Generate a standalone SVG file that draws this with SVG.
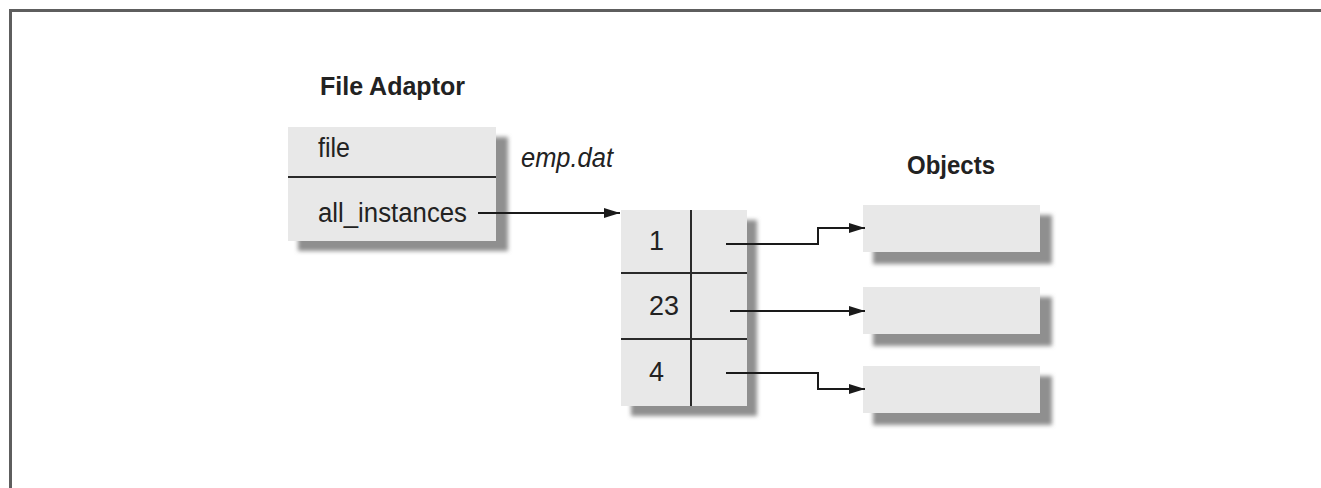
<svg xmlns="http://www.w3.org/2000/svg" width="1321" height="488" viewBox="0 0 1321 488">
  <defs>
    <filter id="soft" x="-10%" y="-20%" width="120%" height="140%">
      <feGaussianBlur stdDeviation="2"/>
    </filter>
    <marker id="arrow" viewBox="0 0 16 10" refX="16" refY="5" markerWidth="16" markerHeight="10" markerUnits="userSpaceOnUse" orient="auto">
      <path d="M0,0 L16,5 L0,10 Z" fill="#1a1a1a"/>
    </marker>
  </defs>
  <style>
    .frame { fill: none; stroke: #5e5e5e; stroke-width: 3; }
    .shadow { fill: #8f8f8f; filter: url(#soft); }
    .box { fill: #e8e8e8; }
    .rule { stroke: #2a2a2a; stroke-width: 2; fill: none; }
    .label { font-family: "Liberation Sans", Arial, sans-serif; font-size: 27px; fill: #222; }
    .title { font-family: "Liberation Sans", Arial, sans-serif; font-size: 26px; font-weight: bold; fill: #222; }
    .ital { font-family: "Liberation Sans", Arial, sans-serif; font-size: 27px; font-style: italic; fill: #222; }
    .wire { stroke: #1a1a1a; stroke-width: 2; fill: none; marker-end: url(#arrow); }
  </style>

  <rect width="1321" height="488" fill="#ffffff"/>
  <path class="frame" d="M10.5,488 V10.5 H1321"/>

  <!-- File Adaptor object with its two slots -->
  <g id="file-adaptor">
    <text class="title" x="320" y="95" textLength="145" lengthAdjust="spacingAndGlyphs">File Adaptor</text>
    <rect class="shadow" x="298" y="137" width="210" height="114"/>
    <rect class="box" x="288" y="127" width="208" height="114"/>
    <line class="rule" x1="288" y1="177" x2="496" y2="177"/>
    <text class="label" x="318" y="157" textLength="32" lengthAdjust="spacingAndGlyphs">file</text>
    <text class="label" x="318" y="222" textLength="149" lengthAdjust="spacingAndGlyphs">all_instances</text>
  </g>

  <g id="emp-dat-label">
    <text class="ital" x="521" y="167" textLength="92" lengthAdjust="spacingAndGlyphs">emp.dat</text>
  </g>

  <!-- Instance table: key column and reference column -->
  <g id="instance-table">
    <rect class="shadow" x="631" y="220" width="126" height="196"/>
    <rect class="box" x="621" y="210" width="126" height="196"/>
    <line class="rule" x1="621" y1="273" x2="747" y2="273"/>
    <line class="rule" x1="621" y1="339" x2="747" y2="339"/>
    <line class="rule" x1="691" y1="210" x2="691" y2="406"/>
    <text class="label" x="649" y="250">1</text>
    <text class="label" x="649" y="315" textLength="30" lengthAdjust="spacingAndGlyphs">23</text>
    <text class="label" x="649" y="381">4</text>
  </g>

  <g id="objects-title">
    <text class="title" x="907" y="174" textLength="88" lengthAdjust="spacingAndGlyphs">Objects</text>
  </g>

  <g id="object-1">
    <rect class="shadow" x="873" y="215" width="179" height="49"/>
    <rect class="box" x="863" y="205" width="177" height="47"/>
  </g>
  <g id="object-2">
    <rect class="shadow" x="873" y="297" width="179" height="49"/>
    <rect class="box" x="863" y="287" width="177" height="47"/>
  </g>
  <g id="object-3">
    <rect class="shadow" x="873" y="376" width="179" height="49"/>
    <rect class="box" x="863" y="366" width="177" height="47"/>
  </g>

  <!-- Connectors -->
  <g id="connectors">
    <path class="wire" d="M478,213 H620"/>
    <path class="wire" d="M726,244 H818 V228 H865"/>
    <path class="wire" d="M730,311 H865"/>
    <path class="wire" d="M726,373 H818 V389 H865"/>
  </g>
</svg>
